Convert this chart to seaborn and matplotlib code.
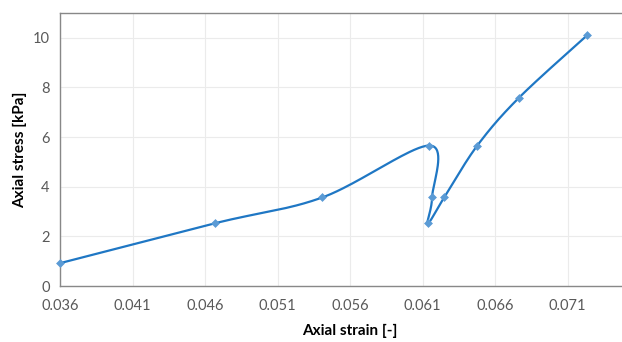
"""Axial stress vs axial strain curve (Excel-style smoothed scatter)."""

import matplotlib

matplotlib.use("Agg")
import matplotlib.pyplot as plt
import numpy as np
import pandas as pd
import seaborn as sns

# values
strain = [0.0360, 0.0467, 0.0541, 0.06147, 0.06166, 0.06136, 0.0625, 0.06478, 0.06766, 0.07237]
stress = [0.92, 2.53, 3.57, 5.66, 3.57, 2.52, 3.57, 5.66, 7.59, 10.11]
x_ticks = [0.036, 0.041, 0.046, 0.051, 0.056, 0.061, 0.066, 0.071]
y_ticks = [0, 2, 4, 6, 8, 10]

X_LIM = (0.036, 0.076)
Y_LIM = (0, 11)
LINE_COLOR = "#1F77C4"
MARKER_COLOR = "#5B9BD5"


def smooth_path(xs, ys, xlim, ylim, n=40):
    """Catmull-Rom through the points, done in normalised axes space like Excel."""
    px = (np.asarray(xs) - xlim[0]) / (xlim[1] - xlim[0]) * 2.0
    py = (np.asarray(ys) - ylim[0]) / (ylim[1] - ylim[0])
    pts = np.column_stack([px, py])
    pts = np.vstack([pts[0], pts, pts[-1]])
    out = []
    t = np.linspace(0, 1, n)[:, None]
    for i in range(1, len(pts) - 2):
        p0, p1, p2, p3 = pts[i - 1], pts[i], pts[i + 1], pts[i + 2]
        c1 = p1 + (p2 - p0) / 6.0
        c2 = p2 - (p3 - p1) / 6.0
        seg = ((1 - t) ** 3) * p1 + 3 * ((1 - t) ** 2) * t * c1 + 3 * (1 - t) * t**2 * c2 + t**3 * p2
        out.append(seg if i == 1 else seg[1:])
    out = np.vstack(out)
    sx = out[:, 0] / 2.0 * (xlim[1] - xlim[0]) + xlim[0]
    sy = out[:, 1] * (ylim[1] - ylim[0]) + ylim[0]
    return sx, sy


sns.set_style("white")
plt.rcParams["font.family"] = ["Lato", "DejaVu Sans"]

df = pd.DataFrame({"strain": strain, "stress": stress})
sx, sy = smooth_path(strain, stress, X_LIM, Y_LIM)
curve = pd.DataFrame({"strain": sx, "stress": sy})

fig = plt.figure(figsize=(6.22, 3.42), dpi=100)
ax = fig.add_axes([60 / 622, 56 / 342, 580 / 622, 273 / 342])

sns.lineplot(data=curve, x="strain", y="stress", sort=False, estimator=None,
             color=LINE_COLOR, linewidth=1.6, ax=ax, zorder=3)
sns.scatterplot(data=df, x="strain", y="stress", marker="D", s=16,
                color=MARKER_COLOR, edgecolor=MARKER_COLOR, linewidth=0.5,
                ax=ax, zorder=4, clip_on=False)

ax.set_xlim(*X_LIM)
ax.set_ylim(*Y_LIM)
ax.set_xticks(x_ticks)
ax.set_xticklabels([f"{v:.3f}" for v in x_ticks])
ax.set_yticks(y_ticks)

ax.grid(True, color="#EBEBEB", linewidth=0.8)
ax.set_axisbelow(True)
for side in ["left", "bottom", "top"]:
    ax.spines[side].set_color("#888888")
    ax.spines[side].set_linewidth(1.0)
ax.spines["right"].set_visible(False)

ax.tick_params(axis="both", direction="inout", length=7, width=1.0,
               color="#888888", labelcolor="#595959", labelsize=10.5)
ax.tick_params(axis="x", pad=6)
ax.tick_params(axis="y", pad=4)

ax.set_xlabel("Axial strain [-]", fontsize=11, fontweight="bold", color="black", labelpad=8)
ax.set_ylabel("Axial stress [kPa]", fontsize=11, fontweight="bold", color="black", labelpad=4)

fig.savefig("out.png", dpi=100)
plt.close(fig)
